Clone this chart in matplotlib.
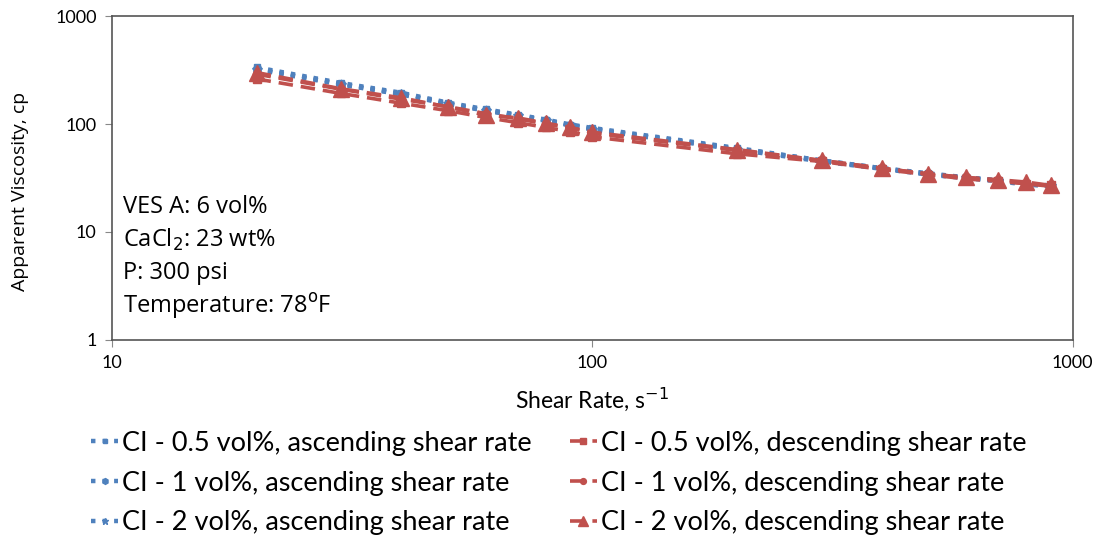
import matplotlib
matplotlib.use("Agg")
import matplotlib.pyplot as plt

# shear rate, 1/s
shear = [20, 30, 40, 50, 60, 70, 80, 90, 100, 200, 300, 400, 500, 600, 700, 800, 900]

# apparent viscosity, cp
asc_05 = [335, 240, 195, 158, 137, 122, 110, 99, 92, 60, 46, 39, 35, 32, 30, 28, 27]
asc_1 = [325, 235, 190, 155, 134, 120, 108, 98, 90, 59, 46, 39, 34.5, 32, 30, 28, 26.5]
asc_2 = [320, 232, 188, 153, 133, 119, 107, 97, 89, 58, 45, 38.5, 34, 31.5, 29.5, 27.5, 26.5]
desc_05 = [262, 192, 156, 133, 115, 103, 93, 85, 76, 53, 45, 38, 34, 31, 29.5, 28, 27]
desc_1 = [290, 210, 170, 145, 125, 112, 100, 92, 82, 57, 46, 39, 34.5, 32, 30, 28, 26.5]
desc_2 = [300, 212, 175, 144, 121, 114, 102, 93, 84, 58, 46, 39, 34.5, 32, 30.5, 29, 27]

labels = [
    "CI - 0.5 vol%, ascending shear rate",
    "CI - 1 vol%, ascending shear rate",
    "CI - 2 vol%, ascending shear rate",
    "CI - 0.5 vol%, descending shear rate",
    "CI - 1 vol%, descending shear rate",
    "CI - 2 vol%, descending shear rate",
]

blue = "#4F81BD"
red = "#C0504D"

plt.rcParams["font.family"] = ["Lato", "DejaVu Sans"]

fig = plt.figure(figsize=(10.98, 5.37), dpi=100)
ax = fig.add_axes([0.102, 0.367, 0.875, 0.603])

dot = (0, (1, 1.6))
dash = (0, (4, 2.2))
ax.plot(shear, asc_05, color=blue, ls=dot, lw=3.2, marker="s", ms=5, label=labels[0])
ax.plot(shear, asc_1, color=blue, ls=dot, lw=3.2, marker="h", ms=6, label=labels[1])
ax.plot(shear, asc_2, color=blue, ls=dot, lw=3.2, marker="*", ms=7, label=labels[2])
ax.plot(shear, desc_05, color=red, ls=dash, lw=2.6, marker="s", ms=6, label=labels[3])
ax.plot(shear, desc_1, color=red, ls=dash, lw=2.6, marker="o", ms=6, label=labels[4])
ax.plot(shear, desc_2, color=red, ls=dash, lw=2.6, marker="^", ms=11, label=labels[5])

ax.set_xscale("log")
ax.set_yscale("log")
ax.set_xlim(10, 1000)
ax.set_ylim(1, 1000)
ax.set_xticks([10, 100, 1000])
ax.set_xticklabels(["10", "100", "1000"])
ax.set_yticks([1, 10, 100, 1000])
ax.set_yticklabels(["1", "10", "100", "1000"])
ax.minorticks_off()
ax.tick_params(labelsize=13, length=5, color="#888888", pad=6)
for s in ax.spines.values():
    s.set_color("#555555")
    s.set_linewidth(1.2)

ax.set_xlabel("Shear Rate, s$^{-1}$", fontsize=16.5, labelpad=10)
ax.set_ylabel("Apparent Viscosity, cp", fontsize=14, family=["Open Sans", "DejaVu Sans"])
ax.yaxis.set_label_coords(-0.086, 0.46)

notes = ["VES A: 6 vol%", "CaCl$_2$: 23 wt%", "P: 300 psi", "Temperature: 78$^{\\rm o}$F"]
for i, t in enumerate(notes):
    ax.text(0.011, 0.41 - i * 0.102, t, transform=ax.transAxes, fontsize=17,
            family=["Open Sans", "DejaVu Sans"], va="center")

ax.legend(loc="upper center", bbox_to_anchor=(0.465, -0.205), ncol=2, frameon=False,
          fontsize=19.5, handlelength=1.0, handletextpad=0.15, columnspacing=1.4,
          labelspacing=0.55, markerscale=0.7)

fig.savefig("out.png", dpi=100)
